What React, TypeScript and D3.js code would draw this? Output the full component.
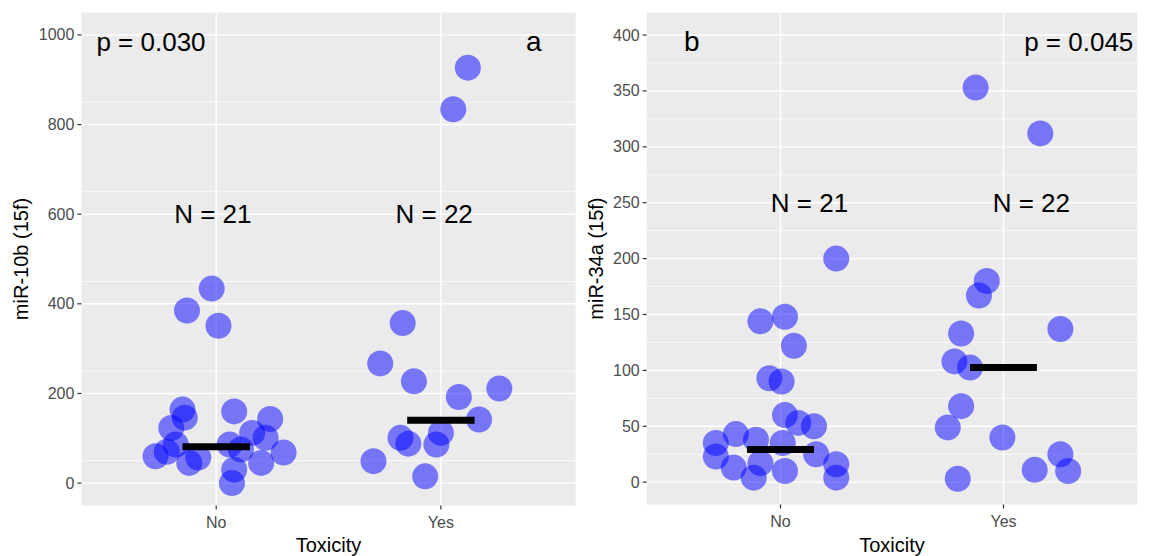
import React from "react";
import * as d3 from "d3";

// categories and annotations
const categories = ["No", "Yes"];
const xTitle = "Toxicity";

// panel a: miR-10b, jitter offsets are in category-step units
const aNoJitter = [-0.02, -0.13, 0.01, -0.15, -0.14, -0.2, -0.18, -0.27, -0.12, -0.08, 0.08, 0.06, 0.11, 0.08, 0.07, 0.16, 0.22, 0.24, 0.3, 0.2, -0.22];
const aNoValues = [434, 385, 351, 164, 146, 123, 86, 60, 45, 57, 160, 86, 75, 30, 0, 112, 101, 143, 68, 45, 70];
const aYesJitter = [0.12, 0.055, -0.17, -0.27, -0.12, 0.08, 0.26, 0.17, -0.18, -0.145, 0.0, -0.02, -0.3, -0.07];
const aYesValues = [927, 834, 357, 267, 227, 192, 211, 142, 101, 88, 112, 86, 49, 15];
const aMedians = [81, 140];

// panel b: miR-34a
const bNoJitter = [-0.09, 0.02, 0.06, -0.05, 0.005, 0.25, 0.02, 0.08, 0.15, -0.29, -0.2, -0.11, 0.01, -0.29, -0.21, -0.12, -0.09, 0.02, 0.16, 0.25, 0.25];
const bNoValues = [144, 148, 122, 93, 90, 200, 60, 53, 50, 35, 43, 38, 35, 23, 13, 4, 17, 10, 25, 16, 4];
const bYesJitter = [-0.125, 0.165, -0.075, -0.11, -0.19, 0.255, -0.22, -0.15, -0.19, -0.25, -0.005, 0.255, 0.29, 0.14, -0.205];
const bYesValues = [353, 312, 180, 167, 133, 137, 108, 102.5, 68, 49, 40, 25, 10, 11, 3];
const bMedians = [29.3, 102.5];

const aTicks = [0, 200, 400, 600, 800, 1000];
const bTicks = [0, 50, 100, 150, 200, 250, 300, 350, 400];

const FONT = "'Liberation Sans', Arial, Helvetica, sans-serif";

type Panel = {
  left: number;
  right: number;
  top: number;
  bottom: number;
  domain: [number, number];
  ticks: number[];
  minorStep: number;
  yTitle: string;
  titleX: number;
  groups: { jitter: number[]; values: number[] }[];
  medians: number[];
  nLabels: string[];
  nOffsets: number[];
  nValue: number;
  pText: string;
  pAnchor: "start" | "end";
  pSide: "left" | "right";
  letter: string;
  letterSide: "left" | "right";
};

const panels: Panel[] = [
  {
    left: 81.4, right: 575.7, top: 12.5, bottom: 505.5,
    domain: [-50, 1050], ticks: aTicks, minorStep: 100,
    yTitle: "miR-10b (15f)", titleX: 21,
    groups: [
      { jitter: aNoJitter, values: aNoValues },
      { jitter: aYesJitter, values: aYesValues },
    ],
    medians: aMedians,
    nLabels: ["N = 21", "N = 22"], nOffsets: [-0.015, -0.03], nValue: 600,
    pText: "p = 0.030", pAnchor: "start", pSide: "left",
    letter: "a", letterSide: "right",
  },
  {
    left: 646.7, right: 1137.3, top: 12.7, bottom: 504.5,
    domain: [-20, 420], ticks: bTicks, minorStep: 50,
    yTitle: "miR-34a (15f)", titleX: 596,
    groups: [
      { jitter: bNoJitter, values: bNoValues },
      { jitter: bYesJitter, values: bYesValues },
    ],
    medians: bMedians,
    nLabels: ["N = 21", "N = 22"], nOffsets: [0.13, 0.125], nValue: 250,
    pText: "p = 0.045", pAnchor: "end", pSide: "right",
    letter: "b", letterSide: "left",
  },
];

function PanelView({ p }: { p: Panel }) {
  const x = d3.scalePoint<string>().domain(categories).range([p.left, p.right]).padding(0.6);
  const step = x.step();
  const y = d3.scaleLinear().domain(p.domain).range([p.bottom, p.top]);
  const minor = p.ticks.slice(0, -1).map((t) => t + p.minorStep / 2);
  const midY = (p.top + p.bottom) / 2;
  const midX = (p.left + p.right) / 2;

  return (
    <g>
      <rect x={p.left} y={p.top} width={p.right - p.left} height={p.bottom - p.top} fill="#ebebeb" />
      {minor.map((t) => (
        <line key={"mi" + t} x1={p.left} x2={p.right} y1={y(t)} y2={y(t)} stroke="#fff" strokeWidth={0.7} />
      ))}
      {p.ticks.map((t) => (
        <line key={"ma" + t} x1={p.left} x2={p.right} y1={y(t)} y2={y(t)} stroke="#fff" strokeWidth={1.4} />
      ))}
      {categories.map((c) => (
        <line key={"vx" + c} x1={x(c)} x2={x(c)} y1={p.top} y2={p.bottom} stroke="#fff" strokeWidth={1.4} />
      ))}

      {/* points */}
      {p.groups.map((g, gi) =>
        g.values.map((v, i) => (
          <circle
            key={gi + "-" + i}
            cx={(x(categories[gi]) as number) + g.jitter[i] * step}
            cy={y(v)}
            r={13}
            fill="#0000ff"
            fillOpacity={0.5}
          />
        ))
      )}

      {/* medians */}
      {p.medians.map((m, i) => (
        <line
          key={"med" + i}
          x1={(x(categories[i]) as number) - 0.15 * step}
          x2={(x(categories[i]) as number) + 0.15 * step}
          y1={y(m)}
          y2={y(m)}
          stroke="#000"
          strokeWidth={7}
          strokeLinecap="butt"
        />
      ))}

      {/* annotations */}
      {p.nLabels.map((t, i) => (
        <text
          key={"n" + i}
          x={(x(categories[i]) as number) + p.nOffsets[i] * step}
          y={y(p.nValue)}
          textAnchor="middle"
          dominantBaseline="central"
          fontFamily={FONT}
          fontSize={26}
          fill="#000"
        >
          {t}
        </text>
      ))}
      <text
        x={p.pSide === "left" ? p.left + 15 : p.right - 4}
        y={51}
        textAnchor={p.pAnchor}
        fontFamily={FONT}
        fontSize={26}
        fill="#000"
      >
        {p.pText}
      </text>
      <text
        x={p.letterSide === "right" ? p.right - 42 : p.left + 45}
        y={51}
        textAnchor="middle"
        fontFamily={FONT}
        fontSize={28}
        fill="#000"
      >
        {p.letter}
      </text>

      {/* y axis */}
      {p.ticks.map((t) => (
        <g key={"yt" + t}>
          <line x1={p.left - 4} x2={p.left} y1={y(t)} y2={y(t)} stroke="#333" strokeWidth={1.2} />
          <text
            x={p.left - 7}
            y={y(t)}
            textAnchor="end"
            dominantBaseline="central"
            fontFamily={FONT}
            fontSize={16}
            fill="#4d4d4d"
          >
            {t}
          </text>
        </g>
      ))}
      <text
        transform={`translate(${p.titleX},${midY}) rotate(-90)`}
        textAnchor="middle"
        dominantBaseline="central"
        fontFamily={FONT}
        fontSize={20}
        fill="#000"
      >
        {p.yTitle}
      </text>

      {/* x axis */}
      {categories.map((c) => (
        <g key={"xt" + c}>
          <line x1={x(c)} x2={x(c)} y1={p.bottom} y2={p.bottom + 4} stroke="#333" strokeWidth={1.2} />
          <text
            x={x(c)}
            y={p.bottom + 17}
            textAnchor="middle"
            dominantBaseline="central"
            fontFamily={FONT}
            fontSize={16}
            fill="#4d4d4d"
          >
            {c}
          </text>
        </g>
      ))}
      <text
        x={midX}
        y={545}
        textAnchor="middle"
        dominantBaseline="central"
        fontFamily={FONT}
        fontSize={20}
        fill="#000"
      >
        {xTitle}
      </text>
    </g>
  );
}

export default function App() {
  return (
    <div>
      <style>{`body{margin:0;}`}</style>
      <svg width={1151} height={556} style={{ display: "block", background: "#fff" }}>
        {panels.map((p, i) => (
          <PanelView key={i} p={p} />
        ))}
      </svg>
    </div>
  );
}
